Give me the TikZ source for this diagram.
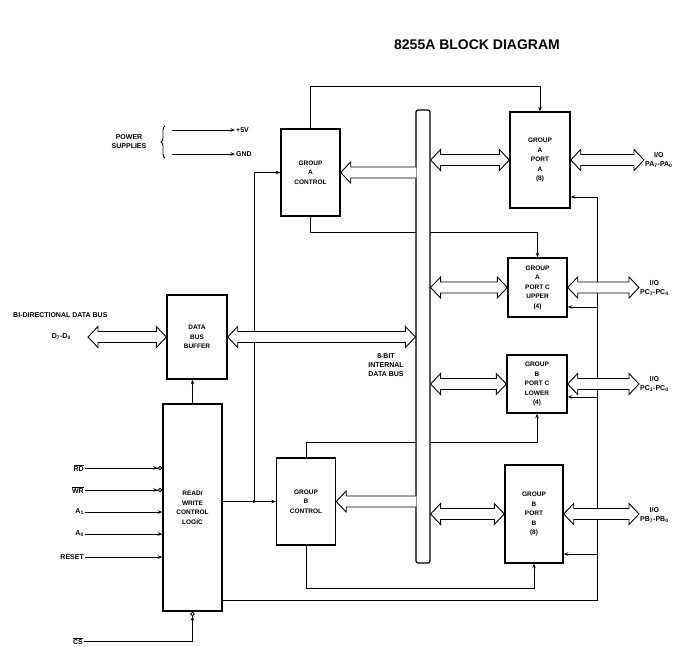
\documentclass[tikz,border=0pt]{standalone}
\usepackage{fontspec}
\setsansfont{Liberation Sans}
\usetikzlibrary{arrows.meta,calc,decorations.pathreplacing}

% wide bus arrows, drawn between two points at the same height
\newcommand{\busboth}[2]{%
  \filldraw[fat] let \p1=(#1), \p2=(#2) in
    (\x1,\y1) -- ++(10pt,10.5pt) -- ++(0pt,-5pt) -- (\x2-10pt,\y1+5.5pt)
    -- ++(0pt,5pt) -- (\x2,\y1) -- ++(-10pt,-10.5pt) -- ++(0pt,5pt)
    -- (\x1+10pt,\y1-5.5pt) -- ++(0pt,-5pt) -- cycle;}
\newcommand{\busleft}[2]{%
  \filldraw[fat] let \p1=(#1), \p2=(#2) in
    (\x1+1pt,\y2+5.5pt) -- (\x2+10pt,\y2+5.5pt) -- ++(0pt,5pt) -- (\x2,\y2)
    -- ++(10pt,-10.5pt) -- ++(0pt,5pt) -- (\x1+1pt,\y2-5.5pt);}

\begin{document}
\begin{tikzpicture}[x=1pt,y=-1pt,
    box/.style={draw,line width=1.4pt,fill=white,align=center,inner sep=0pt,
      font=\sffamily\bfseries\fontsize{6.5}{9.5}\selectfont},
    lbl/.style={align=center,inner sep=1pt,
      font=\sffamily\bfseries\fontsize{7}{9}\selectfont},
    wire/.style={line width=0.9pt},
    fat/.style={line width=0.9pt,fill=white},
    >={Stealth[length=4.5pt,width=3.5pt]},
    pin/.style={wire,-{Stealth[length=4.5pt,width=3.5pt] Circle[open,length=4.5pt,width=4.5pt]}}
  ]
  \useasboundingbox (0,0) rectangle (682,646);

  \node[font=\sffamily\bfseries\fontsize{14}{16}\selectfont] (title) at (477,45) {8255A BLOCK DIAGRAM};

  % blocks
  \node[box,minimum width=59pt,minimum height=87pt] (gac) at (310.5,172.5) {GROUP\\A\\CONTROL};
  \node[box,minimum width=59pt,minimum height=87pt] (gbc) at (306,501.5) {GROUP\\B\\CONTROL};
  \node[box,minimum width=60pt,minimum height=96pt] (pa) at (540,160) {GROUP\\A\\PORT\\A\\(8)};
  \node[box,minimum width=59pt,minimum height=59pt] (pcu) at (537.5,287.5) {GROUP\\A\\PORT C\\UPPER\\(4)};
  \node[box,minimum width=60pt,minimum height=58pt] (pcl) at (537,384) {GROUP\\B\\PORT C\\LOWER\\(4)};
  \node[box,minimum width=58pt,minimum height=98pt] (pb) at (534,514) {GROUP\\B\\PORT\\B\\(8)};
  \node[box,minimum width=60pt,minimum height=84pt] (dbb) at (197,337) {DATA\\BUS\\BUFFER};
  \node[box,minimum width=59pt,minimum height=207pt] (rw) at (192.5,507.5) {READ/\\WRITE\\CONTROL\\LOGIC};

  % labels
  \node[lbl] (pwr) at (129,142) {POWER\\SUPPLIES};
  \node[lbl,anchor=west] (vcc) at (235,130) {+5V};
  \node[lbl,anchor=west] (gnd) at (235,154) {GND};
  \node[lbl,anchor=west] (bidir) at (12,315) {BI-DIRECTIONAL DATA BUS};
  \node[lbl,anchor=east] (dlab) at (72,337) {D\textsubscript{7}-D\textsubscript{0}};
  \node[lbl] (ibus) at (386,365) {8-BIT\\INTERNAL\\DATA BUS};
  \node[lbl,anchor=west] (ioA) at (644,160) {I/O\\PA\textsubscript{7}-PA\textsubscript{0}};
  \node[lbl,anchor=west] (ioCU) at (639,288) {I/O\\PC\textsubscript{7}-PC\textsubscript{4}};
  \node[lbl,anchor=west] (ioCL) at (639,384) {I/O\\PC\textsubscript{3}-PC\textsubscript{0}};
  \node[lbl,anchor=west] (ioB) at (639,515) {I/O\\PB\textsubscript{7}-PB\textsubscript{0}};
  \node[lbl,anchor=east] (rd) at (85,468) {$\overline{\mbox{RD}}$};
  \node[lbl,anchor=east] (wr) at (85,490) {$\overline{\mbox{WR}}$};
  \node[lbl,anchor=east] (aone) at (85,512) {A\textsubscript{1}};
  \node[lbl,anchor=east] (azero) at (85,534) {A\textsubscript{0}};
  \node[lbl,anchor=east] (reset) at (85,557) {RESET};
  \node[lbl,anchor=east] (cs) at (84,641) {$\overline{\mbox{CS}}$};

  \coordinate (ps1) at (172,130);
  \coordinate (ps2) at (172,154);
  \coordinate (dext) at (88,337);
  \coordinate (topA) at (0,86);
  \coordinate (midA) at (0,232);
  \coordinate (midB) at (0,442);
  \coordinate (lowB) at (0,588);
  \coordinate (rail) at (597,600);
  \coordinate (split) at (254,501.5);
  \coordinate (tapA) at (0,197);
  \coordinate (tapCU) at (0,307);
  \coordinate (tapCL) at (0,397);
  \coordinate (tapB) at (0,554);

  % power supplies
  \draw[wire,decorate,decoration={brace,amplitude=4pt}] (165,158) -- (165,126);
  \draw[wire,->] (ps1) -- (vcc.west);
  \draw[wire,->] (ps2) -- (gnd.west);

  % control lines
  \draw[wire,->] (gac.north) -- (gac.north |- topA) -| (pa.north);
  \draw[wire,->] (gac.south) -- (gac.south |- midA) -| (pcu.north);
  \draw[wire,->] (gbc.north) -- (gbc.north |- midB) -| (pcl.south);
  \draw[wire,->] (gbc.south) -- (gbc.south |- lowB) -| (pb.south);
  \draw[wire,->] (rw.east |- split) -- (gbc.west);
  \draw[wire,->] (split) |- (gac.west);
  \fill (split) circle (1.6pt);
  \draw[wire,->] (rw.north) -- (rw.north |- dbb.south);
  \draw[wire,->] (rw.east |- rail) -- (rail) |- (pa.east |- tapA);
  \draw[wire,->] (rail |- tapCU) -- (pcu.east |- tapCU);
  \draw[wire,->] (rail |- tapCL) -- (pcl.east |- tapCL);
  \draw[wire,->] (rail |- tapB) -- (pb.east |- tapB);

  % inputs
  \draw[pin] (rd.east) -- (rd.east -| rw.west);
  \draw[pin] (wr.east) -- (wr.east -| rw.west);
  \draw[wire,->] (aone.east) -- (aone.east -| rw.west);
  \draw[wire,->] (azero.east) -- (azero.east -| rw.west);
  \draw[wire,->] (reset.east) -- (reset.east -| rw.west);
  \draw[pin] (cs.east) -| (rw.south);

  % internal bus
  \node[draw,line width=1.2pt,fill=white,rounded corners=2pt,minimum width=14pt,
    minimum height=453pt,inner sep=0pt] (bus) at (423,336.5) {};

  \busboth{dext}{dbb.west}
  \busboth{dbb.east}{bus.west |- dbb.east}
  \busleft{bus.west |- gac.east}{gac.east}
  \busleft{bus.west |- gbc.east}{gbc.east}
  \busboth{bus.east |- pa.west}{pa.west}
  \busboth{bus.east |- pcu.west}{pcu.west}
  \busboth{bus.east |- pcl.west}{pcl.west}
  \busboth{bus.east |- pb.west}{pb.west}
  \busboth{pa.east}{ioA.west}
  \busboth{pcu.east}{ioCU.west}
  \busboth{pcl.east}{ioCL.west}
  \busboth{pb.east}{ioB.west}
\end{tikzpicture}
\end{document}
